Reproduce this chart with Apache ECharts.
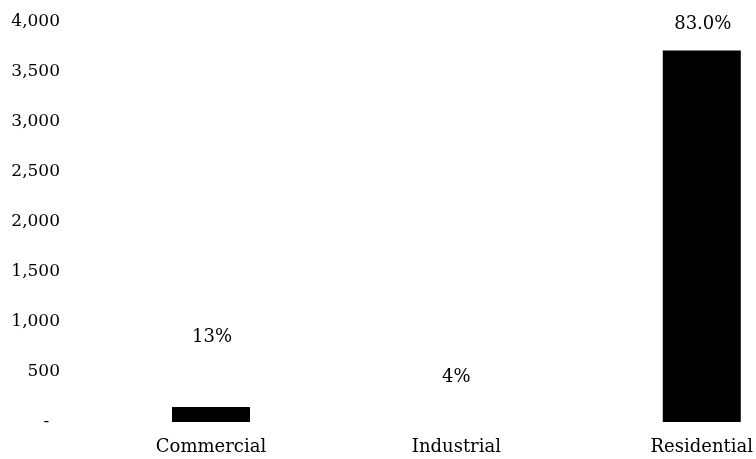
<!DOCTYPE html>
<html>
<head>
<meta charset="utf-8">
<script src="https://cdn.jsdelivr.net/npm/echarts@6/dist/echarts.min.js"></script>
<style>html,body{margin:0;padding:0;background:#fff;overflow:hidden;}#c{width:756px;height:459px;}</style>
</head>
<body>
<div id="c"></div>
<script>
var categories = ['Commercial', 'Industrial', 'Residential'];
var values = [150, 0, 3710];
var shareLabels = ['13%', '4%', '83.0%'];
var yTicks = [0, 500, 1000, 1500, 2000, 2500, 3000, 3500, 4000];

var labelOffsets = [[1, -56], [0, -31], [1, -12]];
var font = 'DejaVu Serif';

var chart = echarts.init(document.getElementById('c'), null, {renderer: 'canvas'});
chart.setOption({
  backgroundColor: '#fff',
  animation: false,
  grid: {left: 211, right: 48, top: 21.5, bottom: 37, containLabel: false},
  xAxis: {
    type: 'category',
    data: categories,
    boundaryGap: false,
    axisLine: {show: false},
    axisTick: {show: false},
    splitLine: {show: false},
    axisLabel: {color: '#000', fontFamily: font, fontSize: 18, margin: 16}
  },
  yAxis: {
    type: 'value',
    min: yTicks[0],
    max: yTicks[yTicks.length - 1],
    interval: yTicks[1] - yTicks[0],
    axisLine: {show: false},
    axisTick: {show: false},
    splitLine: {show: false},
    axisLabel: {
      color: '#000', fontFamily: font, fontSize: 17, margin: 151, align: 'right',
      formatter: function (v) { return v === 0 ? '-  ' : v.toLocaleString('en-US'); }
    }
  },
  series: [{
    type: 'bar',
    clip: false,
    barWidth: 78,
    itemStyle: {color: '#000'},
    data: values.map(function (v, i) {
      return {
        value: v,
        label: {
          show: true,
          position: 'top',
          distance: 5,
          offset: labelOffsets[i],
          formatter: shareLabels[i],
          color: '#000',
          fontFamily: font,
          fontSize: 18
        }
      };
    })
  }]
});
</script>
</body>
</html>
